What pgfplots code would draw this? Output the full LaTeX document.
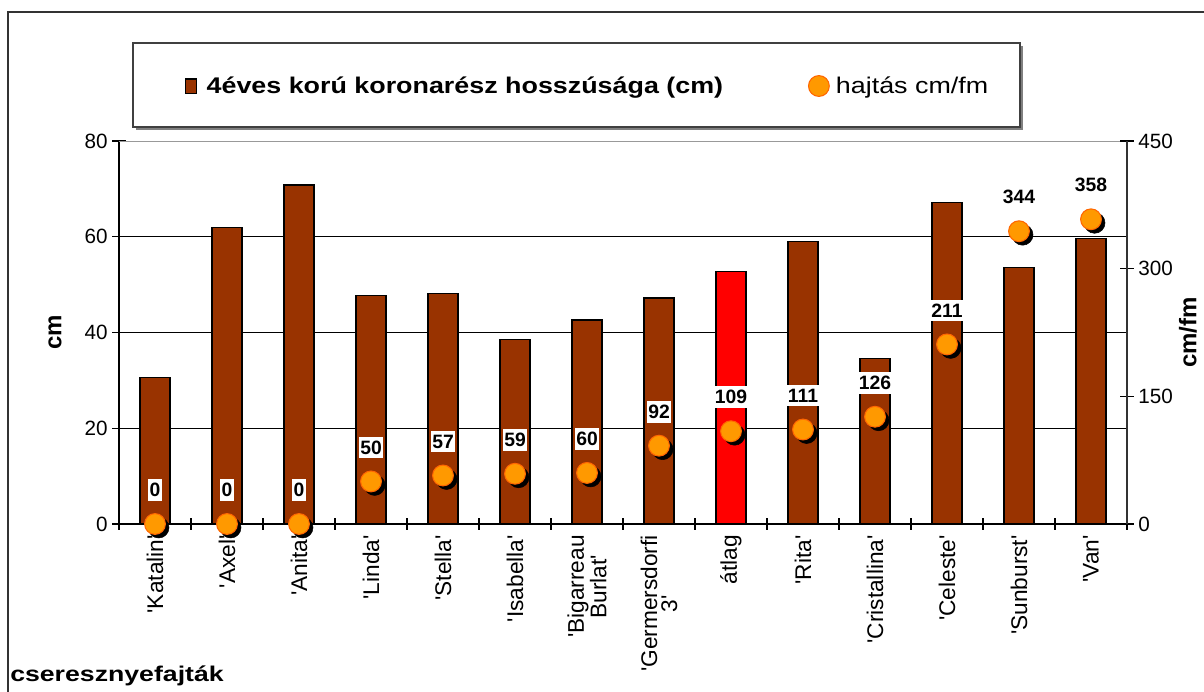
\documentclass[border=0pt]{standalone}
\usepackage{fontspec}
\setmainfont{Liberation Sans}
\newfontfamily\wide[FakeStretch=1.185]{Liberation Sans}
\newfontfamily\wider[FakeStretch=1.25]{Liberation Sans}
\usepackage{pgfplots}
\pgfplotsset{compat=1.18}
\definecolor{barbrown}{HTML}{993300}
\definecolor{mkorange}{HTML}{FF9900}
\definecolor{mkedge}{HTML}{FF6600}
\newcommand\q{\textquotesingle}
\begin{document}
\begin{tikzpicture}
\path[use as bounding box] (0,0) rectangle (903pt,519pt);
\draw[line width=1.1pt, black!80] (6pt,0) -- (6pt,510pt) -- (903pt,510pt);
% legend frame
\fill[black!50] (102pt,421.5pt) rectangle (767.25pt,484.5pt);
\draw[black!75, line width=0.8pt, fill=white] (99.75pt,423.75pt) rectangle (765pt,486.75pt);
\node[anchor=west, font=\wider\bfseries\fontsize{16}{18}\selectfont, inner sep=0pt] at (7.5pt,12pt) {cseresznyefajták};

\begin{axis}[
  at={(89.25pt,126pt)}, anchor=south west,
  scale only axis, width=756pt, height=287.25pt,
  /pgf/number format/assume math mode=true,
  xmin=-0.5, xmax=13.5, ymin=0, ymax=80,
  axis x line*=bottom, axis y line*=left,
  axis line style={black, line width=0.9pt},
  xtick={0,...,13},
  xticklabels={{\q Katalin\q},{\q Axel\q},{\q Anita\q},{\q Linda\q},{\q Stella\q},{\q Isabella\q},{\q Bigarreau\\Burlat\q},{\q Germersdorfi\\3\q},{átlag},{\q Rita\q},{\q Cristallina\q},{\q Celeste\q},{\q Sunburst\q},{\q Van\q}},
  major x tick style={draw=none},
  minor xtick={-0.5,0.5,...,13.5},
  ytick={0,20,...,80},
  ymajorgrids, grid style={black, line width=0.6pt},
  tick align=center, major tick length=10pt, minor tick length=9pt,
  tick style={black, line width=0.8pt},
  yticklabel style={font=\fontsize{15.5}{18}\selectfont},
  xticklabel style={rotate=90, anchor=east, align=center, font=\fontsize{17}{15}\selectfont},
  every axis y label/.style={at={(axis description cs:-0.0635,0.5)}, rotate=90, anchor=center, font=\bfseries\fontsize{18}{20}\selectfont},
  ylabel={cm},
  legend columns=2,
  legend style={at={(axis description cs:0.065,1.1436)}, anchor=west, draw=none, fill=none, inner sep=0pt,
    font=\wide\fontsize{17}{20}\selectfont,
    /tikz/every even column/.append style={column sep=62pt}},
]
\addplot[ybar, bar width=22.5pt, bar shift=0pt, fill=barbrown, draw=black, line width=0.9pt,
  legend image code/.code={\draw[fill=barbrown, draw=black, line width=0.9pt] (0pt,-5.6pt) rectangle (8.5pt,5.2pt);}]
  coordinates {(0,30.6) (1,61.9) (2,70.8) (3,47.8) (4,48.2) (5,38.5) (6,42.6) (7,47.2) (9,59.0) (10,34.6) (11,67.2) (12,53.6) (13,59.6)};
\addlegendentry{\hspace{5pt}\bfseries 4éves korú koronarész hosszúsága (cm)}
\addplot[ybar, bar width=22.5pt, bar shift=0pt, fill=red, draw=black, line width=0.9pt, forget plot]
  coordinates {(8,52.8)};
\addlegendimage{only marks, mark=*, mark size=7.8pt, mark options={fill=mkorange, draw=mkedge, line width=0.8pt}}
\addlegendentry{\hspace{3pt}hajtás cm/fm}
\draw[black!40, line width=1.3pt] (rel axis cs:0,1) -- (rel axis cs:1,1);
\end{axis}

\begin{axis}[
  at={(89.25pt,126pt)}, anchor=south west,
  scale only axis, width=756pt, height=287.25pt,
  /pgf/number format/assume math mode=true,
  xmin=-0.5, xmax=13.5, ymin=0, ymax=450,
  axis x line=none, axis y line*=right,
  axis line style={black!80, line width=0.9pt},
  ytick={0,150,300,450},
  tick align=center, major tick length=10pt,
  tick style={black, line width=0.8pt},
  yticklabel style={font=\fontsize{15.5}{18}\selectfont},
  every axis y label/.style={at={(axis description cs:1.0605,0.5)}, rotate=90, anchor=center, font=\bfseries\fontsize{18}{20}\selectfont},
  ylabel={cm/fm},
  clip=false,
]
\addplot[only marks, mark=*, mark size=7.8pt, mark options={fill=black, draw=black, xshift=2.7pt, yshift=-2.7pt}]
  coordinates {(0,0) (1,0) (2,0) (3,50) (4,57) (5,59) (6,60) (7,92) (8,109) (9,111) (10,126) (11,211) (12,344) (13,358)};
\addplot[only marks, mark=*, mark size=7.8pt, mark options={fill=mkorange, draw=mkedge, line width=0.8pt},
  nodes near coords,
  nodes near coords style={font=\bfseries\fontsize{14.5}{16}\selectfont, fill=white, inner xsep=1pt, inner ysep=3pt, anchor=center, yshift=25.5pt}]
  coordinates {(0,0) (1,0) (2,0) (3,50) (4,57) (5,59) (6,60) (7,92) (8,109) (9,111) (10,126) (11,211) (12,344) (13,358)};
\end{axis}
\end{tikzpicture}
\end{document}
